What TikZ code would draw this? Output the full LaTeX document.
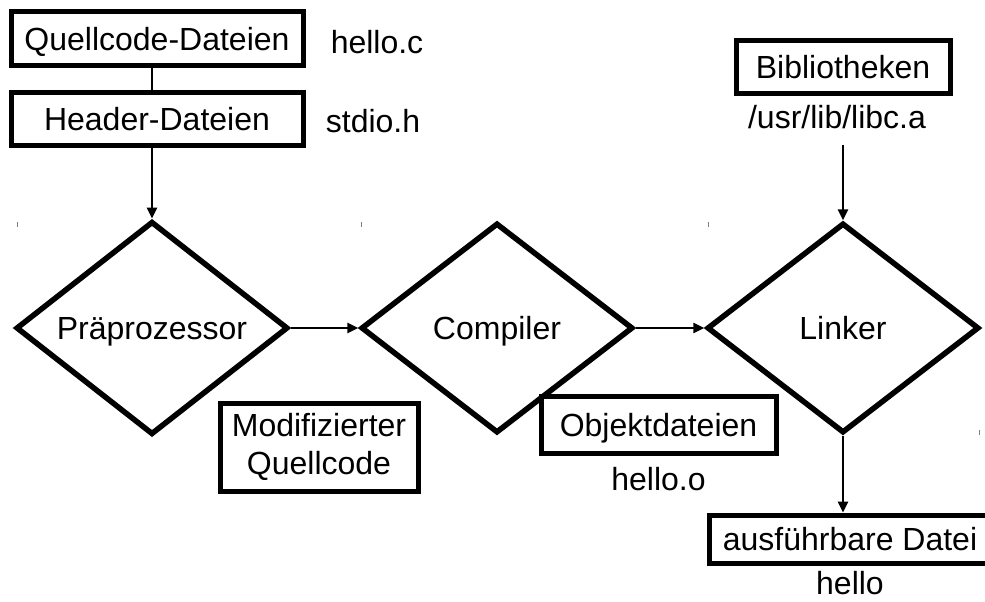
\documentclass[tikz,border=0pt]{standalone}
\usepackage{fontspec}
\setmainfont{Liberation Sans}
\usetikzlibrary{arrows.meta,positioning,shapes.geometric}

\begin{document}
\begin{tikzpicture}[x=1pt,y=-1pt,
    big/.style={font=\fontsize{32}{38}\selectfont},
    txt/.style={big,text height=23pt,text depth=0pt},
    box/.style={rectangle,draw,line width=5pt,inner sep=0pt,align=center},
    dia/.style={diamond,draw,line width=5.5pt,inner sep=0pt,minimum width=272pt,minimum height=210pt,txt},
    lbl/.style={inner sep=0pt,txt},
    tick/.style={line width=1pt,gray},
    >={Triangle[length=11pt,width=10pt]}, line width=2.5pt
  ]
  \useasboundingbox (0,0) rectangle (985,602);
  % eingaben
  \node[box,txt,minimum width=292pt,minimum height=54pt] (quell) at (157,39) {Quellcode-Dateien};
  \node[box,txt,minimum width=292pt,minimum height=53pt] (head) at (157,118.5) {Header-Dateien};
  \node[box,txt,minimum width=214pt,minimum height=52pt] (bib) at (843,67) {Bibliotheken};
  \node[lbl] (helloc) at (377,42) {hello.c};
  \node[lbl] (stdio) at (373,121) {stdio.h};
  \node[lbl] (libc) at (837,117) {/usr/lib/libc.a};
  % stufen
  \node[dia] (praep) at (152,328) {Präprozessor};
  \node[dia] (comp) at (497,328) {Compiler};
  \node[dia] (link) at (843,328) {Linker};
  % zwischenprodukte
  \node[box,big,minimum width=198pt,minimum height=88pt] (modif) at (319,447) {Modifizierter\\Quellcode};
  \node[box,txt,minimum width=235pt,minimum height=57pt] (obj) at (658.5,424.5) {Objektdateien};
  \node[lbl,below=11pt of obj] (helloo) {hello.o};
  \node[box,txt,minimum width=281pt,minimum height=48pt] (exe) at (850,539) {ausführbare Datei};
  \node[lbl] (hello) at (850,583) {hello};
  % verbindungen
  \draw (quell.south -| praep.north) -- (head.north -| praep.north);
  \draw[->] (head.south -| praep.north) -- (praep.north);
  \draw[->] (praep.east) -- (comp.west);
  \draw[->] (comp.east) -- (link.west);
  \draw[->] (link.north |- 0,145) -- (link.north);
  \draw[->] (link.south) -- (exe.north -| link.south);
  % kleine marken
  \foreach \mx/\my in {17/222, 361/222, 708/222, 979/430}
    \draw[tick] (\mx,\my) -- ++(0,5);
\end{tikzpicture}
\end{document}
